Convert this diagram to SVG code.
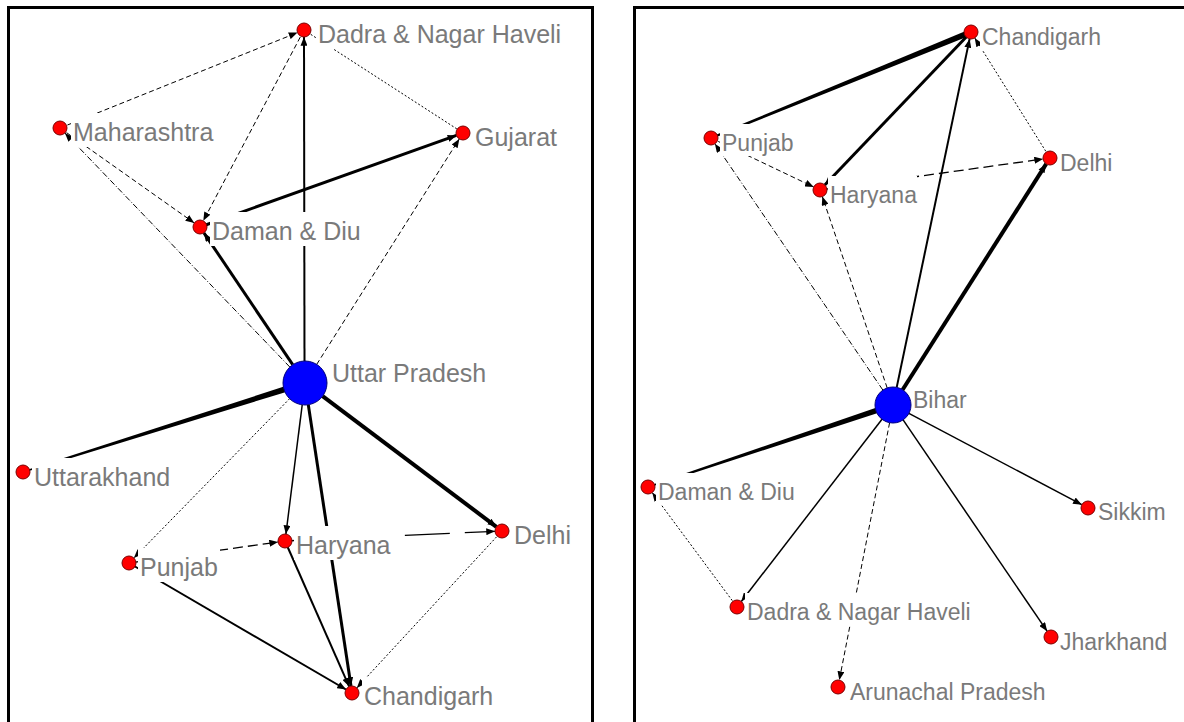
<svg xmlns="http://www.w3.org/2000/svg" width="1184" height="722" viewBox="0 0 1184 722">
<defs>
<marker id="ah" viewBox="0 0 10 8" refX="10" refY="4" markerWidth="9" markerHeight="7" markerUnits="userSpaceOnUse" orient="auto"><path d="M0,0 L10,4 L0,8 z" fill="#000"/></marker>
<style>
.e{fill:none;stroke:#000;marker-end:url(#ah)}
.na{fill:none;stroke:#000}
.dash{stroke-width:1;stroke-dasharray:5 3}
.dot{stroke-width:1;stroke-dasharray:2 2}
.dd{stroke-width:1;stroke-dasharray:6 2 1 2}
.ld{stroke-width:1.3;stroke-dasharray:10 5}
.xl{stroke-width:1.3;stroke-dasharray:45 15}
.s1{stroke-width:1.5}
.s2{stroke-width:2}
.s3{stroke-width:3}
.s4{stroke-width:4}
.tp{fill:#000;stroke:none}
.lb{fill:#fff}
.n{fill:#ff0000;stroke:#7a0000;stroke-width:1}
.b{fill:#0000ff;stroke:#00007a;stroke-width:1}
.t{font-family:"Liberation Sans",Arial,sans-serif;font-size:25px;fill:#7a7a7a}
.t2{font-family:"Liberation Sans",Arial,sans-serif;font-size:23px;fill:#7a7a7a}
.frame{fill:none;stroke:#000;stroke-width:3}
</style>
</defs>
<rect width="1184" height="722" fill="#fff"/>
<path class="frame" d="M8.5,730 V7.5 H592.5 V730"/>
<path class="frame" d="M634.5,730 V7.5 H1190"/>

<g id="connectors">
<!-- left panel -->
<line class="e dash" x1="60" y1="128" x2="297.5" y2="32.6"/>
<line class="e dash" x1="60" y1="128" x2="194.3" y2="223"/>
<line class="e dd" x1="289.8" y1="367" x2="64.9" y2="133"/>
<line class="e dash" x1="304" y1="30" x2="203.3" y2="220.8"/>
<line class="e s2" x1="304.5" y1="361" x2="304" y2="37"/>
<line class="na dot" x1="304" y1="30" x2="457" y2="129"/>
<line class="e s3" x1="200" y1="227" x2="456.4" y2="135.4"/>
<line class="e dash" x1="316.7" y1="364.4" x2="459.3" y2="138.9"/>
<line class="e s3" x1="292.7" y1="364.7" x2="203.9" y2="232.8"/>
<polygon class="tp" points="22.8,471.2 304.1,380.1 305.9,385.9 23.2,472.8"/>
<line class="e dot" x1="289.6" y1="398.7" x2="133.9" y2="558"/>
<line class="e s1" x1="302.2" y1="404.8" x2="285.9" y2="534.1"/>
<line class="e s3" x1="308.3" y1="404.8" x2="351" y2="686"/>
<line class="e s4" x1="322.6" y1="396.2" x2="496.4" y2="526.8"/>
<line class="e ld" x1="129" y1="563" x2="278.1" y2="542"/>
<line class="e xl" x1="285" y1="541" x2="495" y2="531.3"/>
<line class="e s2" x1="285" y1="541" x2="349.2" y2="686.6"/>
<line class="e s2" x1="129" y1="563" x2="346" y2="689.5"/>
<line class="e dot" x1="502" y1="531" x2="356.8" y2="687.9"/>
<!-- right panel -->
<polygon class="tp" points="710.6,137.1 969.9,29.2 972.1,34.8 711.4,138.9"/>
<line class="e s3" x1="971" y1="32" x2="824.8" y2="185"/>
<line class="e s2" x1="896.7" y1="387.4" x2="969.6" y2="38.9"/>
<line class="e dot" x1="1050" y1="158" x2="974.7" y2="37.9"/>
<line class="e ld" x1="820" y1="190" x2="1043.1" y2="159"/>
<line class="e s4" x1="902.6" y1="389.8" x2="1046.2" y2="163.9"/>
<line class="e dash" x1="711" y1="138" x2="813.7" y2="187"/>
<line class="e dd" x1="882.9" y1="390.1" x2="714.9" y2="143.8"/>
<line class="e dash" x1="887.2" y1="388" x2="822.3" y2="196.6"/>
<polygon class="tp" points="647.7,486.2 892,402.2 893.9,407.8 648.3,487.8"/>
<line class="e dot" x1="737" y1="607" x2="652.2" y2="492.6"/>
<line class="e s1" x1="882" y1="419.2" x2="741.3" y2="601.5"/>
<line class="e dash" x1="889.6" y1="422.7" x2="839.3" y2="680.1"/>
<line class="e s1" x1="908.9" y1="413.4" x2="1081.8" y2="504.7"/>
<line class="e s1" x1="903.1" y1="419.9" x2="1047.1" y2="631.2"/>
</g>

<!-- left panel nodes -->
<g id="L-dadra"><rect class="lb" x="316" y="15" width="247" height="34"/><circle class="n" cx="304" cy="30" r="7"/><text class="t" x="318" y="43">Dadra &amp; Nagar Haveli</text></g>
<g id="L-maharashtra"><rect class="lb" x="71" y="113" width="144" height="34"/><circle class="n" cx="60" cy="128" r="7"/><text class="t" x="73" y="141">Maharashtra</text></g>
<g id="L-gujarat"><rect class="lb" x="473" y="118" width="88" height="34"/><circle class="n" cx="463" cy="133" r="7"/><text class="t" x="475" y="146">Gujarat</text></g>
<g id="L-daman"><rect class="lb" x="210" y="212" width="154" height="34"/><circle class="n" cx="200" cy="227" r="7"/><text class="t" x="212" y="240">Daman &amp; Diu</text></g>
<g id="L-up"><rect class="lb" x="330" y="354" width="159" height="34"/><circle class="b" cx="305" cy="383" r="22"/><text class="t" x="332" y="382">Uttar Pradesh</text></g>
<g id="L-uttarakhand"><rect class="lb" x="32" y="458" width="141" height="34"/><circle class="n" cx="23" cy="472" r="7"/><text class="t" x="34" y="486">Uttarakhand</text></g>
<g id="L-delhi"><rect class="lb" x="512" y="516" width="61" height="34"/><circle class="n" cx="502" cy="531" r="7"/><text class="t" x="514" y="544">Delhi</text></g>
<g id="L-haryana"><rect class="lb" x="294" y="526" width="97" height="34"/><circle class="n" cx="285" cy="541" r="7"/><text class="t" x="296" y="554">Haryana</text></g>
<g id="L-punjab"><rect class="lb" x="138" y="548" width="82" height="34"/><circle class="n" cx="129" cy="563" r="7"/><text class="t" x="140" y="576">Punjab</text></g>
<g id="L-chandigarh"><rect class="lb" x="362" y="677" width="132" height="34"/><circle class="n" cx="352" cy="693" r="7"/><text class="t" x="364" y="705">Chandigarh</text></g>

<!-- right panel nodes -->
<g id="R-chandigarh"><rect class="lb" x="980" y="18" width="122" height="32"/><circle class="n" cx="971" cy="32" r="7"/><text class="t2" x="982" y="45">Chandigarh</text></g>
<g id="R-punjab"><rect class="lb" x="720" y="124" width="75" height="32"/><circle class="n" cx="711" cy="138" r="7"/><text class="t2" x="722" y="151">Punjab</text></g>
<g id="R-haryana"><rect class="lb" x="828" y="176" width="89" height="32"/><circle class="n" cx="820" cy="190" r="7"/><text class="t2" x="830" y="203">Haryana</text></g>
<g id="R-delhi"><rect class="lb" x="1058" y="144" width="56" height="32"/><circle class="n" cx="1050" cy="158" r="7"/><text class="t2" x="1060" y="171">Delhi</text></g>
<g id="R-bihar"><rect class="lb" x="911" y="381" width="58" height="32"/><circle class="b" cx="893" cy="405" r="18"/><text class="t2" x="913" y="408">Bihar</text></g>
<g id="R-daman"><rect class="lb" x="656" y="473" width="143" height="32"/><circle class="n" cx="648" cy="487" r="7"/><text class="t2" x="658" y="500">Daman &amp; Diu</text></g>
<g id="R-dadra"><rect class="lb" x="745" y="593" width="232" height="32"/><circle class="n" cx="737" cy="607" r="7"/><text class="t2" x="747" y="620">Dadra &amp; Nagar Haveli</text></g>
<g id="R-arunachal"><rect class="lb" x="848" y="673" width="199" height="32"/><circle class="n" cx="838" cy="687" r="7"/><text class="t2" x="850" y="700">Arunachal Pradesh</text></g>
<g id="R-sikkim"><rect class="lb" x="1096" y="493" width="70" height="32"/><circle class="n" cx="1088" cy="508" r="7"/><text class="t2" x="1098" y="520">Sikkim</text></g>
<g id="R-jharkhand"><rect class="lb" x="1058" y="623" width="112" height="32"/><circle class="n" cx="1051" cy="637" r="7"/><text class="t2" x="1060" y="650">Jharkhand</text></g>
</svg>
